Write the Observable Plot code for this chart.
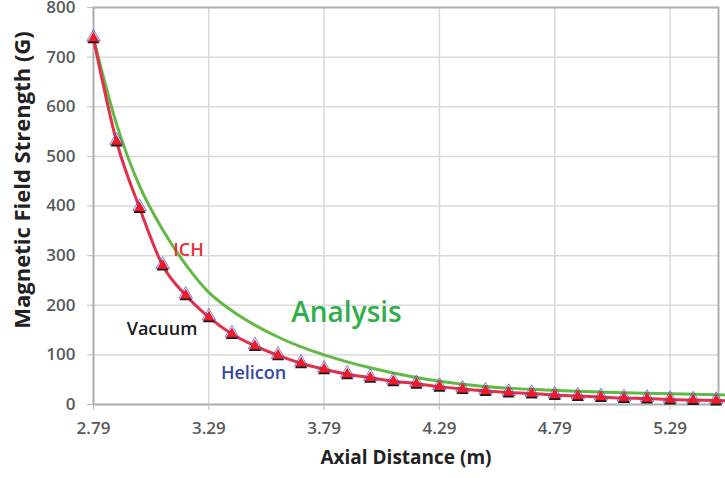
<!DOCTYPE html>
<html><head><meta charset="utf-8">
<script src="https://cdn.jsdelivr.net/npm/d3@7"></script>
<script src="https://cdn.jsdelivr.net/npm/@observablehq/plot@0.6"></script>
<style>
body{margin:0;background:#fff}
svg{display:block}
g[aria-label^="x-axis"] text, g[aria-label^="y-axis"] text {fill:#595959}
</style>
</head><body><div id="chart"></div>
<script>
// Axial distance (m) of the measured points
const distance = [2.79,2.89,2.99,3.09,3.19,3.29,3.39,3.49,3.59,3.69,3.79,3.89,3.99,4.09,4.19,4.29,4.39,4.49,4.59,4.69,4.79,4.89,4.99,5.09,5.19,5.29,5.39,5.49,5.59];
// Measured field (G) – Vacuum / Helicon / ICH overlap
const fieldVacuum = [738,530,396,280,220,176,142,118,99,83,71,61,54,47,42,36,31,27,24,22,19,17,15,13,12,10,9,8,7];
const fieldHelicon = [738,530,396,280,220,176,142,118,99,83,71,61,54,47,42,36,31,27,24,22,19,17,15,13,12,10,9,8,7];
const fieldICH = [738,530,396,280,220,176,142,118,99,83,71,61,54,47,42,36,31,27,24,22,19,17,15,13,12,10,9,8,7];
// Analysis curve (G)
const fieldAnalysis = [738,565,440,352,282,226,189,160,136,116,100,86,74,63.5,54.5,47,41,36.5,33,30.5,28.5,26.5,25,23.5,22.5,21.5,20.5,19.5,18.5];

const xTicks = [2.79,3.29,3.79,4.29,4.79,5.29];
const yTicks = [0,100,200,300,400,500,600,700,800];
const xDomain = [2.79,5.5];
const yDomain = [0,800];

const labels = [
  {x:3.202, y:310, text:"ICH", color:"#e8303a", size:18, weight:700},
  {x:3.887, y:185, text:"Analysis", color:"#2fae4a", size:28, weight:400},
  {x:3.087, y:151, text:"Vacuum", color:"#1a1a1a", size:18, weight:700},
  {x:3.484, y:62.5, text:"Helicon", color:"#3348a8", size:18, weight:700}
];

const ich = distance.map((d,i)=>({x:d, y:fieldICH[i]}));
const vac = distance.map((d,i)=>({x:d, y:fieldVacuum[i]}));
const hel = distance.map((d,i)=>({x:d, y:fieldHelicon[i]}));
const ana = distance.map((d,i)=>({x:d, y:fieldAnalysis[i]}));

const chart = Plot.plot({
  width:725, height:478,
  marginLeft:93, marginRight:7, marginTop:7, marginBottom:74,
  style:{fontFamily:"Open Sans", fontSize:"17px", fontWeight:600, color:"#bfbfbf", background:"#fff"},
  x:{domain:xDomain, ticks:xTicks, tickFormat:d=>d.toFixed(2), tickSize:6, tickPadding:11, label:null},
  y:{domain:yDomain, ticks:yTicks, tickSize:6, tickPadding:12, label:null},
  marks:[
    Plot.ruleX(xTicks, {stroke:"#d9d9d9", strokeWidth:1.5}),
    Plot.ruleY(yTicks, {stroke:"#d9d9d9", strokeWidth:1.5}),
    Plot.frame({stroke:"#b0b0b0", strokeWidth:2}),
    Plot.line(ana, {x:"x", y:"y", stroke:"#63b946", strokeWidth:3, curve:"monotone-x"}),
    Plot.line(ich, {x:"x", y:"y", stroke:"#e0304a", strokeWidth:3, curve:"monotone-x"}),
    Plot.dot(hel, {x:"x", y:"y", symbol:"triangle", stroke:"#3a4fc0", fill:"none", strokeWidth:1, strokeOpacity:0.7, r:5, dy:-1}),
    Plot.dot(vac, {x:"x", y:"y", symbol:"triangle", fill:"#1a1a1a", r:4.5, dy:1.5}),
    Plot.dot(ich, {x:"x", y:"y", symbol:"triangle", fill:"#ee1c2a", r:4.2}),
    Plot.text(labels, {x:"x", y:"y", text:"text", fill:d=>d.color, fontSize:d=>d.size, fontWeight:d=>d.weight}),
    Plot.text(["Axial Distance (m)"], {frameAnchor:"bottom", dy:59, fill:"#222", fontSize:19, fontWeight:700}),
    Plot.text(["Magnetic Field Strength (G)"], {frameAnchor:"left", textAnchor:"middle", dx:-71, dy:-26, rotate:-90, fill:"#222", fontSize:22, fontWeight:700})
  ]
});
document.getElementById("chart").appendChild(chart);
</script>
</body></html>
